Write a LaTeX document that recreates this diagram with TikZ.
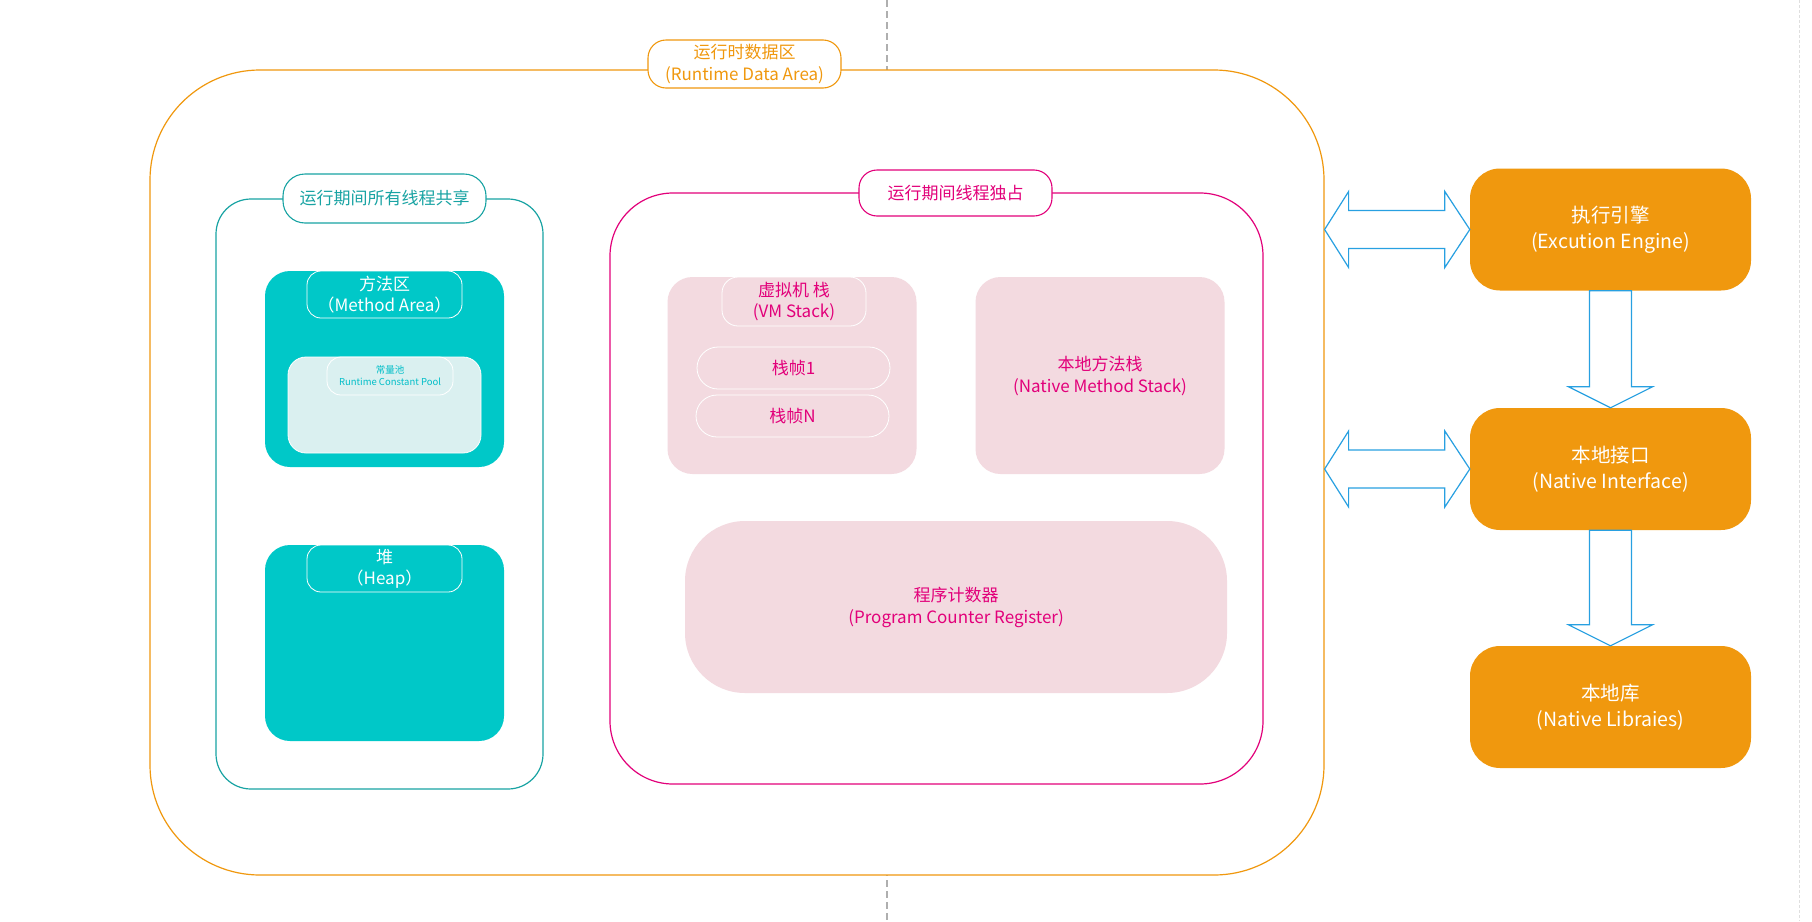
\documentclass[tikz,border=0pt]{standalone}
\usepackage{fontspec}
\setmainfont{Noto Sans CJK SC}
\definecolor{jvmorange}{RGB}{240,152,14}
\definecolor{cyanline}{RGB}{24,163,163}
\definecolor{cyanfill}{RGB}{0,200,200}
\definecolor{cyanlight}{RGB}{218,240,240}
\definecolor{cyantext}{RGB}{0,190,200}
\definecolor{jvmpink}{RGB}{226,0,122}
\definecolor{pinkfill}{RGB}{243,218,224}
\definecolor{arrowblue}{RGB}{40,160,225}
\definecolor{dashgray}{RGB}{175,175,175}

\begin{document}
\begin{tikzpicture}[
		x=1pt, y=-1pt,
		every node/.style={inner sep=0pt, align=center},
		box/.style={draw, fill=white, line width=1.2pt},
		tag/.style={draw, fill=white, line width=1.1pt, rounded corners=18pt, minimum height=48pt, font=\fontsize{17}{22}\selectfont},
		block/.style={rounded corners=25pt, minimum width=239pt, minimum height=196pt},
		subtag/.style={draw=white, line width=0.8pt, rounded corners=14pt, minimum width=155pt, minimum height=47pt, text=white, font=\fontsize{17}{21}\selectfont},
		stackframe/.style={draw=white, line width=0.8pt, rounded corners=21pt, minimum width=193pt, minimum height=42pt, text=jvmpink, font=\fontsize{17}{21}\selectfont},
		stackbox/.style={fill=pinkfill, rounded corners=25pt, minimum width=249pt, minimum height=197pt, text=jvmpink, font=\fontsize{17}{22}\selectfont},
		engine/.style={fill=jvmorange, rounded corners=30pt, minimum width=281pt, minimum height=122pt, text=white, font=\fontsize{19.5}{26}\selectfont},
		bigarrow/.style={draw=arrowblue, line width=1.2pt}
		]
		\path[use as bounding box, fill=white] (0,0) rectangle (1812,921);
		\draw[dashgray, line width=1.6pt, dash pattern=on 7pt off 4pt] (887,0) -- (887,921);
		\draw[gray!25, line width=0.8pt, dash pattern=on 3pt off 2pt] (1799,0) -- (1799,921);
		
		% runtime data area
		\node[box, draw=jvmorange, rounded corners=110pt, minimum width=1174pt, minimum height=805pt] (rda) at (737,472.5) {};
		\node[tag, draw=jvmorange, text=jvmorange, minimum width=193pt] (rdatag) at (744.5,64) {运行时数据区\\(Runtime Data Area)};
		
		% shared by all threads
		\node[box, draw=cyanline, rounded corners=35pt, minimum width=327pt, minimum height=590pt] (shared) at (379.5,494) {};
		\node[tag, draw=cyanline, text=cyanline, minimum width=203pt, minimum height=49pt, rounded corners=22pt] (sharedtag) at (384.5,198.5) {运行期间所有线程共享};
		\node[block, fill=cyanfill] (method) at (384.5,369) {};
		\node[subtag] (methodtag) at (384.5,294.5) {方法区\\（Method Area）};
		\node[fill=cyanlight, draw=white, line width=0.8pt, rounded corners=18pt, minimum width=193pt, minimum height=96pt] (pool) at (384.5,405) {};
		\node[draw=white, line width=0.8pt, rounded corners=14pt, minimum width=126pt, minimum height=38pt, text=cyantext, font=\fontsize{9.5}{12}\selectfont] (pooltag) at (390,376) {常量池\\Runtime Constant Pool};
		\node[block, fill=cyanfill] (heap) at (384.5,643) {};
		\node[subtag] (heaptag) at (384.5,568.5) {堆\\（Heap）};
		
		% private to each thread
		\node[box, draw=jvmpink, rounded corners=63pt, minimum width=653pt, minimum height=591pt] (private) at (936.5,488.5) {};
		\node[tag, draw=jvmpink, text=jvmpink, minimum width=193pt, minimum height=46pt] (privatetag) at (955.5,193) {运行期间线程独占};
		\node[stackbox] (vmstack) at (792,375.5) {};
		\node[stackframe, minimum width=144pt, minimum height=49pt, rounded corners=16pt] (vmtag) at (794,301.5) {虚拟机 栈\\(VM Stack)};
		\node[stackframe] (frame1) at (793.5,368) {栈帧1};
		\node[stackframe] (framen) at (792.5,416) {栈帧N};
		\node[stackbox] (native) at (1100,375.5) {本地方法栈\\(Native Method Stack)};
		\node[stackbox, minimum width=542pt, minimum height=172pt, rounded corners=60pt] (pc) at (956,607) {程序计数器\\(Program Counter Register)};
		
		\node[engine] (engine) at (1610.5,229.5) {执行引擎\\(Excution Engine)};
		\node[engine] (ni) at (1610.5,469) {本地接口\\(Native Interface)};
		\node[engine] (libs) at (1610.5,707) {本地库\\(Native Libraies)};
		
		\coordinate (exit1) at (rda.east |- engine.west);
		\coordinate (exit2) at (rda.east |- ni.west);
		\foreach \a/\b in {exit1/engine, exit2/ni}
		\draw[bigarrow] (\a) -- ([shift={(24,-38)}]\a) -- ([shift={(24,-19)}]\a) -- ([shift={(-25,-19)}]\b.west) -- ([shift={(-25,-38)}]\b.west) -- (\b.west)
		-- ([shift={(-25,38)}]\b.west) -- ([shift={(-25,19)}]\b.west) -- ([shift={(24,19)}]\a) -- ([shift={(24,38)}]\a) -- cycle;
		\foreach \a/\b in {engine/ni, ni/libs}
		\draw[bigarrow] ([shift={(-21,0)}]\a.south) -- ([shift={(-21,-21)}]\b.north) -- ([shift={(-42,-21)}]\b.north) -- (\b.north)
		-- ([shift={(42,-21)}]\b.north) -- ([shift={(21,-21)}]\b.north) -- ([shift={(21,0)}]\a.south) -- cycle;
		\end{tikzpicture}
\end{document}
